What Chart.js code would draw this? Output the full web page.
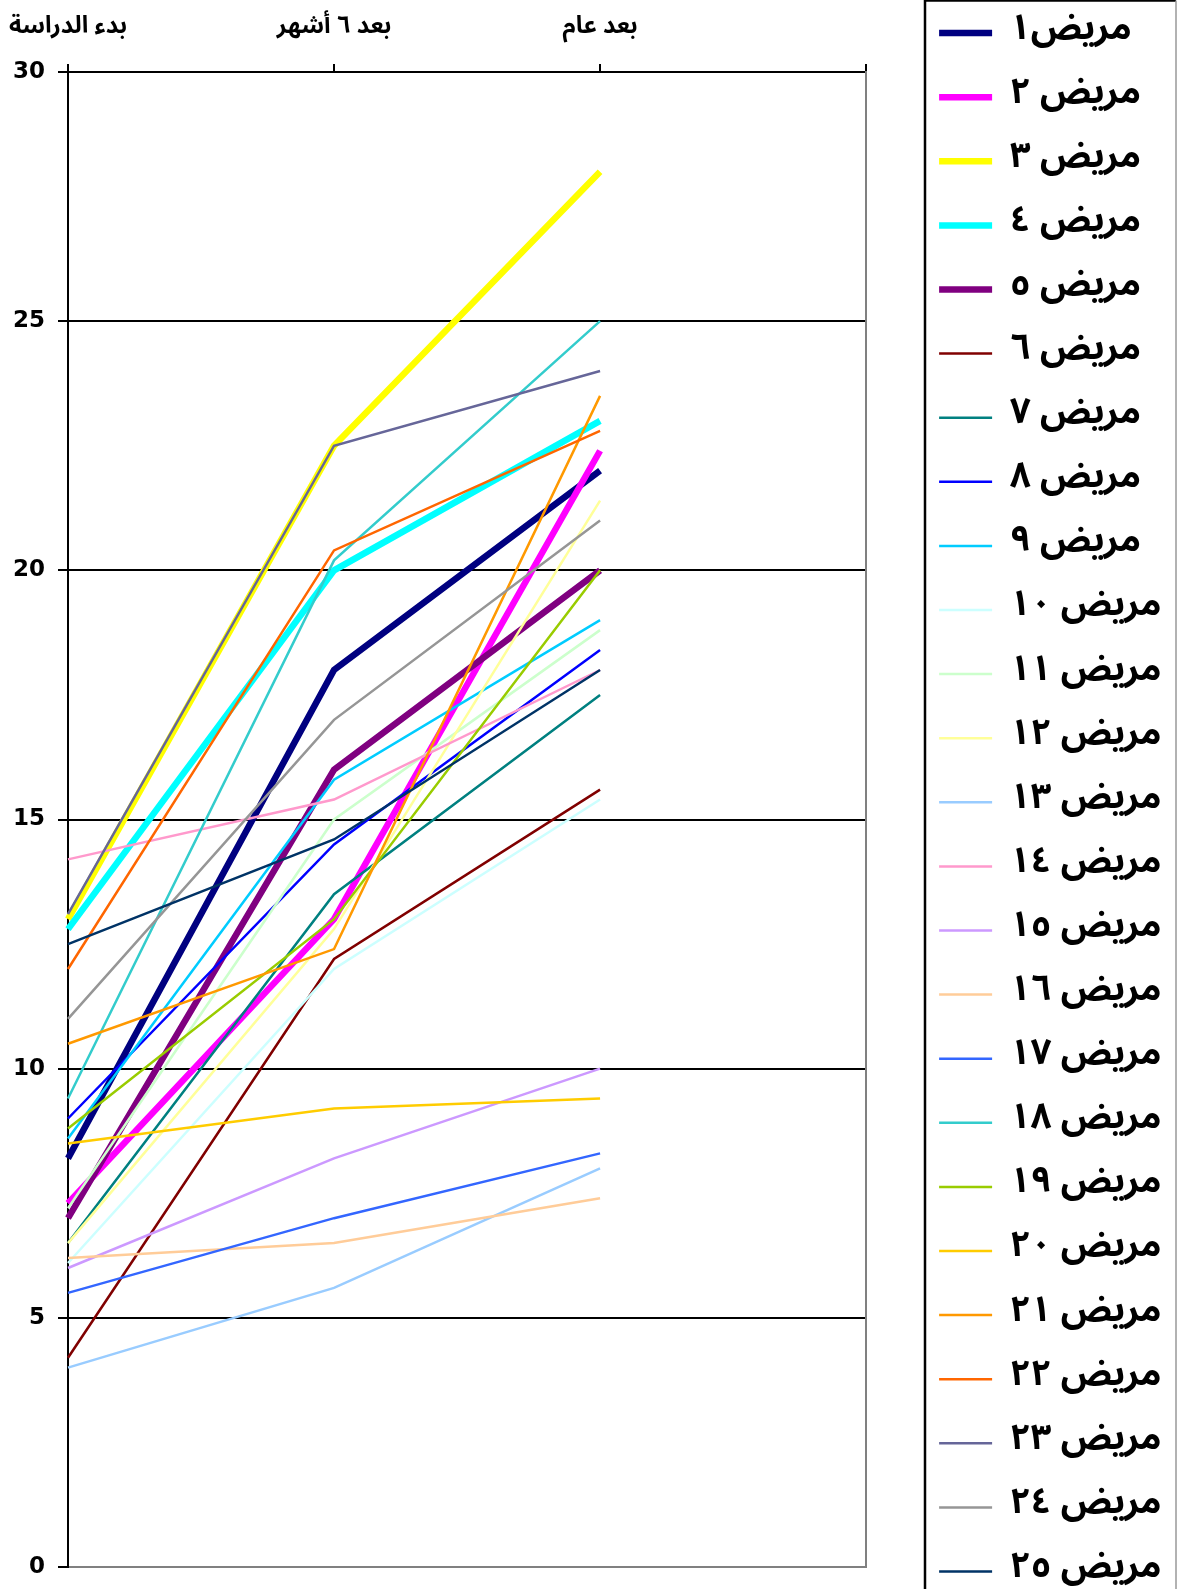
<!DOCTYPE html>
<html><head><meta charset="utf-8">
<script src="https://cdn.jsdelivr.net/npm/chart.js@4/dist/chart.umd.min.js"></script>
<style>
html,body{margin:0;padding:0;background:#fff;overflow:hidden}
#wrap{position:relative;width:1177px;height:1589px;overflow:hidden;background:#fff}
#c{position:absolute;left:0;top:-13px}
</style></head><body>
<div id="wrap"><canvas id="c" width="1250" height="1680"></canvas></div>
<script>
const categories = ['بدء الدراسة', 'بعد ٦ أشهر', 'بعد عام', ''];
const seriesNames = ['مريض١','مريض ٢','مريض ٣','مريض ٤','مريض ٥','مريض ٦','مريض ٧','مريض ٨','مريض ٩','مريض ١٠',
  'مريض ١١','مريض ١٢','مريض ١٣','مريض ١٤','مريض ١٥','مريض ١٦','مريض ١٧','مريض ١٨','مريض ١٩','مريض ٢٠',
  'مريض ٢١','مريض ٢٢','مريض ٢٣','مريض ٢٤','مريض ٢٥'];
const patient1  = [8.2, 18, 22];
const patient2  = [7.3, 13, 22.4];
const patient3  = [13, 22.5, 28];
const patient4  = [12.8, 20, 23];
const patient5  = [7, 16, 20];
const patient6  = [4.2, 12.2, 15.6];
const patient7  = [6.5, 13.5, 17.5];
const patient8  = [9, 14.5, 18.4];
const patient9  = [8.6, 15.8, 19];
const patient10 = [6.1, 12, 15.4];
const patient11 = [7.2, 15, 18.8];
const patient12 = [6.5, 12.8, 21.4];
const patient13 = [4, 5.6, 8];
const patient14 = [14.2, 15.4, 18];
const patient15 = [6, 8.2, 10];
const patient16 = [6.2, 6.5, 7.4];
const patient17 = [5.5, 7, 8.3];
const patient18 = [9.4, 20.2, 25];
const patient19 = [8.8, 13, 20];
const patient20 = [8.5, 9.2, 9.4];
const patient21 = [10.5, 12.4, 23.5];
const patient22 = [12, 20.4, 22.8];
const patient23 = [13.1, 22.5, 24];
const patient24 = [11, 17, 21];
const patient25 = [12.5, 14.6, 18];
const seriesValues = [patient1,patient2,patient3,patient4,patient5,patient6,patient7,patient8,patient9,patient10,
  patient11,patient12,patient13,patient14,patient15,patient16,patient17,patient18,patient19,patient20,
  patient21,patient22,patient23,patient24,patient25];

const seriesColors = ['#000080','#FF00FF','#FFFF00','#00FFFF','#800080','#800000','#008080','#0000FF','#00CCFF','#CCFFFF',
  '#CCFFCC','#FFFF99','#99CCFF','#FF99CC','#CC99FF','#FFCC99','#3366FF','#33CCCC','#99CC00','#FFCC00',
  '#FF9900','#FF6600','#666699','#969696','#003366'];
const seriesWidths = [6.5,6.5,6.5,6.5,6.5,2.5,2.5,2.5,2.5,2.5,2.5,2.5,2.5,2.5,2.5,2.5,2.5,2.5,2.5,2.5,2.5,2.5,2.5,2.5,2.5];

const FONT = "'Noto Sans Arabic', 'Noto Naskh Arabic', 'Arial', 'DejaVu Sans', sans-serif";
const NUM_FONT = "'DejaVu Sans', sans-serif";
const CANVAS_W = 1250;
const LEG_PAD = 28.1;
const LEG_FONT = 36;
const LEGEND_LEFT = 939 - LEG_PAD;
const PLOT_RIGHT = 866;

const frame = {
  id: 'frame',
  beforeDraw(chart) {
    chart.legend.right = CANVAS_W;
  },
  afterDraw(chart) {
    const ctx = chart.ctx;
    const x = 925, top = 13.5;
    ctx.save();
    ctx.strokeStyle = '#000'; ctx.lineWidth = 2.5;
    ctx.beginPath(); ctx.moveTo(x, 2000); ctx.lineTo(x, top); ctx.lineTo(x + 251, top); ctx.stroke();
    ctx.strokeStyle = '#999'; ctx.lineWidth = 1.5;
    ctx.beginPath(); ctx.moveTo(x + 251, top); ctx.lineTo(x + 251, 2000); ctx.stroke();
    ctx.restore();
  }
};

function noPad(s) { s.paddingLeft = 0; s.paddingRight = 0; }

const chart = new Chart(document.getElementById('c'), {
  type: 'line',
  data: {
    labels: categories,
    datasets: seriesValues.map((d, i) => ({
      label: seriesNames[i], data: d,
      borderColor: seriesColors[i], backgroundColor: seriesColors[i],
      borderWidth: seriesWidths[i], pointBorderWidth: seriesWidths[i], pointBorderColor: seriesColors[i],
      pointRadius: 0, pointHoverRadius: 0, tension: 0, order: -i, fill: false,
      borderCapStyle: 'butt', borderJoinStyle: 'miter', xAxisID: 'x', yAxisID: 'y'
    }))
  },
  options: {
    responsive: false, animation: false, devicePixelRatio: 1,
    layout: { padding: { left: 0, top: 0, right: 0, bottom: 0 } },
    plugins: {
      tooltip: { enabled: false },
      legend: {
        position: 'right', align: 'start',
        labels: {
          usePointStyle: true, pointStyle: 'line', pointStyleWidth: 53, padding: LEG_PAD,
          color: '#000', font: { family: FONT, size: LEG_FONT, weight: 'bold' },
          sort: (a, b) => a.datasetIndex - b.datasetIndex
        }
      }
    },
    scales: {
      x: {
        type: 'category', position: 'top', offset: false,
        grid: { display: true, drawOnChartArea: false, drawTicks: true, tickLength: 8, color: '#000', lineWidth: 2 },
        border: { display: true, color: '#000', width: 2 },
        ticks: { color: '#000', font: { family: FONT, size: 24, weight: 'bold' }, padding: 20, maxRotation: 0, autoSkip: false },
        afterFit(s) { s.height = 85; noPad(s); }
      },
      xb: {
        type: 'category', position: 'bottom', labels: categories,
        grid: { display: false }, border: { display: false }, ticks: { display: false },
        afterFit(s) { s.height = 100; noPad(s); }
      },
      y: {
        position: 'left', min: 0, max: 30,
        ticks: { stepSize: 5, color: '#000', font: { family: NUM_FONT, size: 23, weight: 'bold' }, padding: 13 },
        grid: { color: c => (c.tick && c.tick.value === 0) ? '#808080' : '#000', tickColor: '#000', lineWidth: 2, tickLength: 10 },
        border: { display: true, color: '#000', width: 2 },
        afterFit(s) { s.width = 68; s.paddingTop = 0; s.paddingBottom = 0; }
      },
      y2: {
        position: 'right', min: 0, max: 30,
        grid: { display: false }, ticks: { display: false },
        border: { display: true, color: '#808080', width: 2 },
        afterFit(s) { s.width = LEGEND_LEFT - PLOT_RIGHT; s.paddingTop = 0; s.paddingBottom = 0; }
      }
    }
  },
  plugins: [frame]
});
for (let k = 0; k < 4; k++) {
  const err = chart.legend.left - LEGEND_LEFT;
  if (Math.abs(err) < 0.3) break;
  chart.options.layout.padding.right += err;
  chart.update();
}
</script>
</body></html>
